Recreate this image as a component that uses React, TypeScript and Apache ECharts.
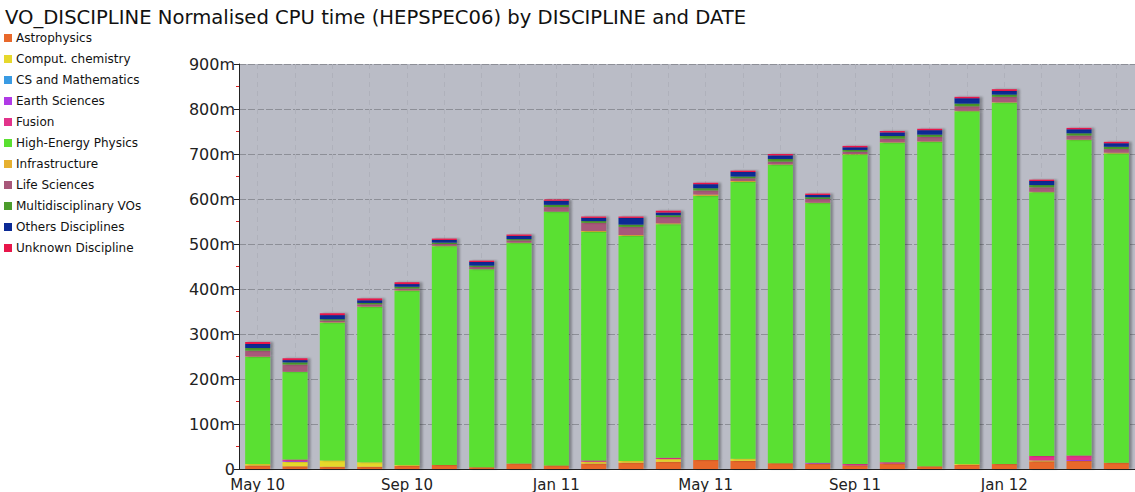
import React, { useEffect, useRef } from "react";
import * as echarts from "echarts";

const months = [
  "May 10", "Jun 10", "Jul 10", "Aug 10", "Sep 10", "Oct 10", "Nov 10", "Dec 10",
  "Jan 11", "Feb 11", "Mar 11", "Apr 11", "May 11", "Jun 11", "Jul 11", "Aug 11",
  "Sep 11", "Oct 11", "Nov 11", "Dec 11", "Jan 12", "Feb 12", "Mar 12", "Apr 12",
];

const astrophysics = [8, 6, 5, 5, 7, 9, 4, 12, 8, 12, 14, 16, 20, 18, 13, 12, 8, 12, 6, 9, 11, 17, 18, 14];
const computChemistry = [3, 10, 14, 10, 2, 0, 0, 0, 0, 4, 4, 6, 0, 5, 0, 0, 0, 0, 0, 2, 0, 2, 0, 0];
const csMathematics = [0, 0, 0, 0, 0, 0, 0, 0, 0, 0, 0, 0, 0, 0, 0, 0, 0, 0, 0, 0, 0, 0, 0, 0];
const earthSciences = [0, 2, 0, 0, 0, 0, 0, 0, 0, 0, 0, 0, 0, 0, 0, 2, 0, 0, 0, 0, 0, 0, 2, 0];
const fusion = [0, 3, 0, 0, 0, 0, 0, 0, 0, 3, 0, 3, 0, 0, 0, 0, 3, 3, 0, 0, 0, 10, 10, 0];
const highEnergyPhysics = [238, 195, 306, 345, 387, 486, 440, 490, 564, 508, 500, 519, 587, 615, 663, 577, 688, 710, 721, 784, 803, 586, 701, 687];
const infrastructure = [1, 0, 1, 1, 1, 1, 0, 1, 0, 2, 2, 2, 3, 2, 1, 1, 1, 1, 1, 1, 1, 1, 1, 2];
const lifeSciences = [13, 16, 4, 5, 4, 4, 5, 5, 10, 18, 18, 14, 9, 6, 6, 8, 5, 8, 10, 10, 12, 10, 9, 8];
const multidisciplinary = [6, 5, 3, 3, 4, 3, 3, 3, 5, 4, 5, 4, 5, 4, 6, 4, 4, 6, 5, 6, 5, 5, 5, 5];
const othersDisciplines = [9, 5, 9, 6, 6, 6, 8, 7, 9, 7, 15, 6, 9, 10, 8, 5, 6, 8, 10, 12, 8, 9, 9, 8];
const unknownDiscipline = [4, 4, 4, 4, 4, 3, 3, 3, 3, 3, 3, 4, 3, 3, 3, 3, 3, 3, 3, 3, 4, 3, 3, 3];

const seriesDefs = [
  { name: "Astrophysics", data: astrophysics, color: "#e8682b" },
  { name: "Comput. chemistry", data: computChemistry, color: "#e6d82c" },
  { name: "CS and Mathematics", data: csMathematics, color: "#3a9be3" },
  { name: "Earth Sciences", data: earthSciences, color: "#b03ae6" },
  { name: "Fusion", data: fusion, color: "#e2338a" },
  { name: "High-Energy Physics", data: highEnergyPhysics, color: "#5ae030" },
  { name: "Infrastructure", data: infrastructure, color: "#e6b030" },
  { name: "Life Sciences", data: lifeSciences, color: "#a8587a" },
  { name: "Multidisciplinary VOs", data: multidisciplinary, color: "#4c9c2c" },
  { name: "Others Disciplines", data: othersDisciplines, color: "#0b2a95" },
  { name: "Unknown Discipline", data: unknownDiscipline, color: "#e8164a" },
];

const FONT = "DejaVu Sans";

export default function App() {
  const ref = useRef<HTMLDivElement>(null);
  useEffect(() => {
    if (!ref.current) return;
    const chart = echarts.init(ref.current, null, { renderer: "svg" });
    chart.setOption({
      animation: false,
      title: {
        text: "VO_DISCIPLINE Normalised CPU time (HEPSPEC06) by DISCIPLINE and DATE",
        left: 0,
        top: 2,
        textStyle: { fontFamily: FONT, fontSize: 19.6, fontWeight: "normal", color: "#111" },
      },
      legend: {
        orient: "vertical",
        left: 4,
        top: 31,
        icon: "rect",
        itemWidth: 8,
        itemHeight: 8,
        itemGap: 7,
        padding: 0,
        selectedMode: false,
        textStyle: { fontFamily: FONT, fontSize: 12, lineHeight: 14, color: "#111", padding: [0, 0, 0, -1] },
        data: seriesDefs.map((s) => s.name),
      },
      grid: {
        left: 239,
        right: -2,
        top: 64,
        bottom: 22,
        show: true,
        backgroundColor: "#babcc6",
        borderWidth: 0,
      },
      xAxis: {
        type: "category",
        data: months,
        axisLine: { lineStyle: { color: "#222", width: 1 } },
        axisTick: { interval: 3, alignWithLabel: true, length: 5, lineStyle: { color: "#222" } },
        axisLabel: { interval: 3, fontFamily: FONT, fontSize: 15, lineHeight: 15, color: "#222", margin: 8 },
        splitLine: {
          show: true,
          interval: 0,
          alignWithLabel: true,
          lineStyle: { color: "#afb1bb", type: [5, 4], width: 1 },
        },
      },
      yAxis: {
        type: "value",
        min: 0,
        max: 900,
        interval: 100,
        axisLine: { show: true, lineStyle: { color: "#222", width: 1 } },
        axisTick: { show: true, length: 5, lineStyle: { color: "#222" } },
        minorTick: { show: true, splitNumber: 2, length: 3, lineStyle: { color: "#e02020", width: 1 } },
        axisLabel: {
          fontFamily: FONT,
          fontSize: 16,
          lineHeight: 13,
          color: "#222",
          margin: 4,
          formatter: (v: number) => (v === 0 ? "0" : v + "m"),
        },
        splitLine: { show: true, lineStyle: { color: "#8d8f97", type: [7, 2], width: 1 } },
      },
      series: seriesDefs.map((s) => ({
        name: s.name,
        type: "bar",
        stack: "total",
        barWidth: 25,
        data: s.data,
        itemStyle: {
          color: s.color,
          shadowColor: "rgba(0,0,0,0.3)",
          shadowOffsetX: 3,
          shadowOffsetY: 0,
          shadowBlur: 2,
        },
      })),
    });
    return () => chart.dispose();
  }, []);
  return (
    <div
      ref={ref}
      style={{ position: "fixed", left: 0, top: 0, width: 1135, height: 492, background: "#fff" }}
    />
  );
}
